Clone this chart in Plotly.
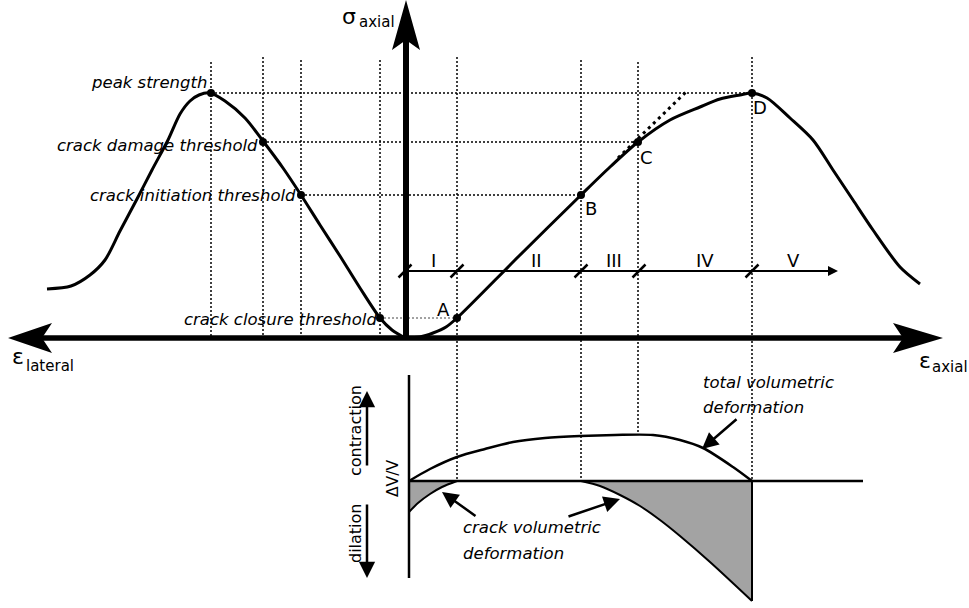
import plotly.graph_objects as go

# ---------------- data (pixel-space schematic coordinates) ----------------
# axial stress-strain curve (right side)
axial_x = [405, 420, 433, 446, 457, 519, 581, 610, 638, 670, 700, 720, 740, 752, 767, 790, 813, 833, 853, 873, 900, 920]
axial_y = [338, 337, 333, 327, 318, 256, 195, 167, 142, 120, 107, 99, 95, 93, 98, 118, 140, 170, 200, 230, 267, 284]

# lateral stress-strain curve (left side)
lateral_x = [405, 392, 380, 360, 340, 320, 301, 283, 263, 245, 225, 210, 199, 190, 180, 168, 152, 137, 120, 105, 90, 71, 47]
lateral_y = [338, 330, 318, 288, 256, 225, 195, 168, 141, 118, 101, 93, 95, 101, 114, 140, 170, 199, 231, 260, 275, 286, 289]

# threshold points
pt_labels = ["A", "B", "C", "D"]
pt_x = [457, 581, 638, 752]
pt_y = [318, 195, 142, 93]
lab_x = [443, 591, 646, 760]
lab_y = [309, 208, 157, 107]

lat_pt_x = [380, 301, 263, 211]
lat_pt_y = [318, 195, 142, 93]
lat_labels = ["crack closure threshold", "crack initiation threshold",
              "crack damage threshold", "peak strength"]
lat_lab_x = [378, 297, 259, 208]
lat_lab_y = [319, 195, 145, 82]

# dotted guides
vguide_x = [211, 263, 301, 380, 457, 581, 638, 752]
vguide_top = [62, 57, 60, 60, 57, 60, 62, 57]
vguide_bot = [338, 338, 338, 338, 481, 481, 435, 481]
hguide_y = [93, 142, 195]
hguide_x0 = [211, 263, 301]
hguide_x1 = [752, 638, 581]

# tangent at C
tangent_x = [618, 687]
tangent_y = [158, 91]

# stage axis
stage_y = 271
stage_x0, stage_x1 = 405, 838
stage_ticks = [405, 457, 581, 639, 752]
stage_names = ["I", "II", "III", "IV", "V"]
stage_name_x = [433, 536, 614, 705, 793]

# volumetric plot
vol_axis_x = 409
vol_axis_y = [375, 578]
vol_zero_y = 481
vol_zero_x = [409, 863]
total_x = [409, 430, 457, 485, 513, 545, 580, 615, 653, 680, 703, 733, 752]
total_y = [481, 469, 457, 449, 442, 438, 436, 435, 435, 440, 448, 467, 481]
crack1_x = [457, 442, 430, 418, 409]
crack1_y = [481, 487, 494, 503, 512]
crack2_x = [581, 600, 620, 640, 660, 680, 710, 752]
crack2_y = [481, 486, 495, 506, 520, 536, 562, 601]

# main axes
haxis_x = [40, 905]
haxis_y = [338, 338]
vaxis_x = [406, 406]
vaxis_y = [338, 40]
arrow_left_x = [8, 52, 42, 52, 8]
arrow_left_y = [338, 323, 338, 353, 338]
arrow_right_x = [943, 893, 903, 893, 943]
arrow_right_y = [338, 323, 338, 353, 338]
arrow_up_x = [406, 420, 406, 392, 406]
arrow_up_y = [0, 50, 40, 50, 0]

FONT = "DejaVu Sans"
fig = go.Figure()


def line(xs, ys, width=3, dash="solid", shape="linear", color="black"):
    fig.add_trace(go.Scatter(x=xs, y=ys, mode="lines",
                             line=dict(color=color, width=width, dash=dash, shape=shape, smoothing=0.8),
                             hoverinfo="skip"))


def poly(xs, ys, fill="black", lw=0, lc="black", shape="linear"):
    fig.add_trace(go.Scatter(x=xs, y=ys, mode="lines", fill="toself", fillcolor=fill,
                             line=dict(color=lc, width=lw, shape=shape), hoverinfo="skip"))


# dotted guides
for x, t, b in zip(vguide_x, vguide_top, vguide_bot):
    line([x, x], [t, b], width=1.5, dash="2px,2px")
for y, a, b in zip(hguide_y, hguide_x0, hguide_x1):
    line([a, b], [y, y], width=1.5, dash="2px,2px")
line([380, 457], [318, 318], width=1, dash="2px,2px", color="#444")
line(tangent_x, tangent_y, width=3, dash="3px,4px")

# volumetric shading (closed along the zero line / right edge)
poly([vol_axis_x] + crack1_x + [vol_axis_x], [vol_zero_y] + crack1_y + [vol_zero_y], fill="#a3a3a3")
poly(crack2_x + [crack2_x[-1], crack2_x[0]], crack2_y + [vol_zero_y, vol_zero_y], fill="#a3a3a3")
line(crack1_x, crack1_y, width=2, shape="spline")
line(crack2_x, crack2_y, width=2, shape="spline")
line([crack2_x[-1], crack2_x[-1]], [vol_zero_y, crack2_y[-1]], width=2)
line([vol_axis_x, vol_axis_x], vol_axis_y, width=2.5)
line(vol_zero_x, [vol_zero_y, vol_zero_y], width=2.5)
line(total_x, total_y, width=2.5, shape="spline")

# main axes
line(haxis_x, haxis_y, width=5.5)
line(vaxis_x, vaxis_y, width=6)
poly(arrow_left_x, arrow_left_y)
poly(arrow_right_x, arrow_right_y)
poly(arrow_up_x, arrow_up_y)

# curves
line(axial_x, axial_y, width=3, shape="spline")
line(lateral_x, lateral_y, width=3, shape="spline")

# stage axis + ticks
line([stage_x0, stage_x1 - 8], [stage_y, stage_y], width=2)
for x in stage_ticks:
    line([x - 6.5, x + 6.5], [stage_y + 6.5, stage_y - 6.5], width=2.5)

# points
fig.add_trace(go.Scatter(x=pt_x + lat_pt_x, y=pt_y + lat_pt_y, mode="markers",
                         marker=dict(color="black", size=8), hoverinfo="skip"))

ann = []


def text(x, y, s, size=16.5, xanchor="center", yanchor="middle", angle=0):
    ann.append(dict(x=x, y=y, xref="x", yref="y", text=s, showarrow=False,
                    xanchor=xanchor, yanchor=yanchor, textangle=angle, borderpad=0,
                    font=dict(family=FONT, size=size, color="black")))


def arrow(x0, y0, x1, y1, width=2.5, size=1.0, head=2):
    ann.append(dict(x=x1, y=y1, ax=x0, ay=y0, xref="x", yref="y", axref="x", ayref="y",
                    text="", showarrow=True, arrowhead=head, arrowsize=size,
                    arrowwidth=width, arrowcolor="black", standoff=0, startstandoff=0))


for s, x, y in zip(pt_labels, lab_x, lab_y):
    text(x, y, s, size=18)
for s, x, y in zip(lat_labels, lat_lab_x, lat_lab_y):
    text(x, y, "<i>" + s + "</i>", xanchor="right")
for s, x in zip(stage_names, stage_name_x):
    text(x, 260, s, size=18)

# axis titles
text(357, 16, "σ", size=22, xanchor="right")
text(358, 22, "axial", size=15, xanchor="left")
text(25, 356, "ε", size=22, xanchor="right")
text(25, 366, "lateral", size=15, xanchor="left")
text(932, 360, "ε", size=22, xanchor="right")
text(969, 367, "axial", size=15, xanchor="right")

# volumetric labels
text(355, 431, "contraction", size=16, angle=-90)
text(355, 533, "dilation", size=16, angle=-90)
text(393, 479, "ΔV/V", size=15.5, angle=-90)
text(462, 527, "<i>crack volumetric</i>", xanchor="left")
text(462, 553, "<i>deformation</i>", xanchor="left")
text(702, 382, "<i>total volumetric</i>", xanchor="left")
text(702, 407, "<i>deformation</i>", xanchor="left")

arrow(367, 467, 367, 391, width=2.5, size=1.3)
arrow(367, 503, 367, 578, width=2.5, size=1.3)
arrow(477, 517, 442, 492, width=2.5, size=1.3)
arrow(567, 517, 620, 499, width=2.5, size=1.3)
arrow(738, 418, 702, 449, width=2.5, size=1.3)
arrow(stage_x1 - 10, stage_y, stage_x1, stage_y, width=2, size=1.0)

fig.update_layout(
    width=969, height=608, margin=dict(l=0, r=0, t=0, b=0),
    paper_bgcolor="white", plot_bgcolor="white", showlegend=False,
    xaxis=dict(range=[0, 969], visible=False, fixedrange=True),
    yaxis=dict(range=[608, 0], visible=False, fixedrange=True),
    annotations=ann,
)

fig.write_html("out.html", config={"displayModeBar": False},
               post_script="document.body.style.margin='0';document.body.style.overflow='hidden';")
